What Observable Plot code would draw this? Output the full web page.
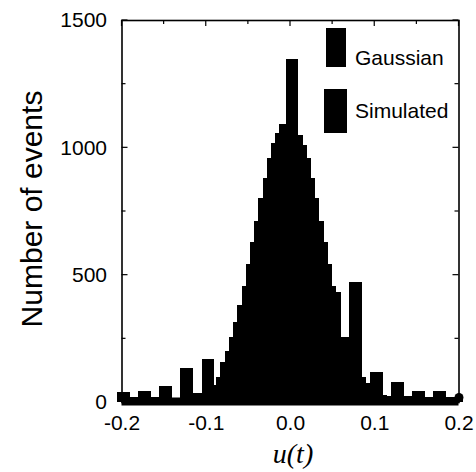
<!DOCTYPE html>
<html>
<head>
<meta charset="utf-8">
<script src="https://cdn.jsdelivr.net/npm/d3@7"></script>
<script src="https://cdn.jsdelivr.net/npm/@observablehq/plot@0.6"></script>
<style>
  html, body { margin: 0; padding: 0; background: #fff; }
  #chart { width: 476px; height: 472px; }
</style>
</head>
<body>
<div id="chart"></div>
<script>
// ---- data ----
const binWidth = 0.005;

// Gaussian histogram: bin centres from -0.200 to 0.200
const gaussianFirstCenter = -0.2;
const gaussianCounts = [
  0, 0, 0, 0, 0, 0, 0, 0, 0, 1,              // -0.200 .. -0.155
  1, 1, 1, 2, 2, 3, 5, 8, 12, 18,            // -0.150 .. -0.105
  30, 45, 68, 100, 158, 201, 254, 313, 381, 455,   // -0.100 .. -0.055
  541, 628, 711, 800, 878, 957, 1016, 1055, 1090, 1092, // -0.050 .. -0.005
  1095,                                       // 0.000
  1090, 1040, 1005, 955, 875, 795, 705, 620, 535, 450,  // 0.005 .. 0.050
  380, 250, 200, 160, 120, 90, 65, 45, 30, 18,     // 0.055 .. 0.100
  12, 8, 5, 3, 2, 2, 1, 1, 1, 1,             // 0.105 .. 0.150
  0, 0, 0, 0, 0, 0, 0, 0, 0, 0               // 0.155 .. 0.200
];

// Simulated histogram: bin centres from -0.2025 to 0.2025
const simulatedFirstCenter = -0.2025;
const simulatedCounts = [
  38, 38, 38, 20, 20, 44, 44, 44, 20, 20,          // -0.2025 .. -0.1575
  63, 63, 63, 14, 14, 132, 132, 132, 35, 35,       // -0.1525 .. -0.1075
  168, 168, 168, 60, 90, 150, 190, 240, 300, 370,  // -0.1025 .. -0.0575
  440, 520, 610, 690, 780, 860, 940, 1000, 1040, 1048, // -0.0525 .. -0.0075
  1347, 1347, 1347, 1048, 1009, 957, 878, 800, 711, 628, // -0.0025 .. 0.0425
  541, 455, 433, 257, 257, 472, 472, 472, 100, 76, // 0.0475 .. 0.0925
  117, 117, 117, 27, 25, 80, 80, 80, 22, 22,       // 0.0975 .. 0.1425
  43, 43, 43, 20, 20, 43, 43, 43, 20, 20,          // 0.1475 .. 0.1925
  20, 20                                           // 0.1975 .. 0.2025
];

const seriesNames = ["Gaussian", "Simulated"];
const xTicks = [-0.2, -0.1, 0, 0.1, 0.2];
const xMinorTicks = [-0.15, -0.05, 0.05, 0.15];
const yTicks = [0, 500, 1000, 1500];
const yMinorTicks = [250, 750, 1250];
const endpoints = [{u: -0.2, n: 0}, {u: 0.2, n: 0}];
const xLabel = "u(t)";
const yLabel = "Number of events";

(function () {
  function toBins(first, counts, name) {
    return counts.map((n, i) => {
      const c = first + i * binWidth;
      return {series: name, x1: c - binWidth / 2, x2: c + binWidth / 2, n};
    });
  }
  const bins = [
    ...toBins(gaussianFirstCenter, gaussianCounts, seriesNames[0]),
    ...toBins(simulatedFirstCenter, simulatedCounts, seriesNames[1])
  ];

  const plot = Plot.plot({
    width: 476,
    height: 472,
    marginLeft: 121.5,
    marginRight: 17.5,
    marginTop: 20,
    marginBottom: 70,
    style: {fontFamily: "'Liberation Sans', Arial, sans-serif", fontSize: "21px", background: "white", color: "black", overflow: "visible"},
    x: {domain: [-0.2, 0.2]},
    y: {domain: [0, 1500]},
    marks: [
      Plot.rectY(bins, {x1: "x1", x2: "x2", y: "n", fill: "black", inset: 0, shapeRendering: "crispEdges"}),
      Plot.ruleY([0], {stroke: "black", strokeWidth: 8, dy: -1}),
      Plot.dot(endpoints, {x: "u", y: "n", r: 4.5, fill: "black", stroke: "none", dy: -5}),
      Plot.frame({stroke: "black", strokeWidth: 1.6}),
      Plot.axisX({ticks: xTicks, tickSize: 0, tickPadding: 13, tickFormat: d => d.toFixed(1), label: null, fontSize: 21}),
      Plot.axisY({ticks: yTicks, tickSize: 0, tickPadding: 15, tickFormat: d => String(d), label: null, fontSize: 21})
    ]
  });

  document.getElementById("chart").appendChild(plot);

  // inward ticks on the frame, placed through the plot's own scales
  const sx = plot.scale("x"), sy = plot.scale("y");
  const svg = d3.select(plot);
  const xl = sx.apply(-0.2), xr = sx.apply(0.2);
  const yt = sy.apply(1500);
  const g = svg.append("g").attr("stroke", "black").attr("stroke-width", 1.2);
  const yAll = [...yTicks.map(v => [v, 6]), ...yMinorTicks.map(v => [v, 4])];
  for (const [v, len] of yAll) {
    const y = sy.apply(v);
    g.append("line").attr("x1", xl).attr("x2", xl + len).attr("y1", y).attr("y2", y);
    g.append("line").attr("x1", xr).attr("x2", xr - len).attr("y1", y).attr("y2", y);
  }
  const xAll = [...xTicks.map(v => [v, 6]), ...xMinorTicks.map(v => [v, 4])];
  for (const [v, len] of xAll) {
    const x = sx.apply(v);
    g.append("line").attr("x1", x).attr("x2", x).attr("y1", yt).attr("y2", yt + len);
  }

  // legend
  const leg = svg.append("g")
    .attr("font-family", "'Liberation Sans', Arial, sans-serif")
    .attr("font-size", 21)
    .attr("text-anchor", "start");
  leg.append("rect").attr("x", 326).attr("y", 28).attr("width", 20).attr("height", 39).attr("fill", "black");
  leg.append("text").attr("x", 355).attr("y", 65).attr("text-anchor", "start").text(seriesNames[0]);
  leg.append("rect").attr("x", 324).attr("y", 89).attr("width", 23).attr("height", 44).attr("fill", "black");
  leg.append("text").attr("x", 355).attr("y", 118).attr("text-anchor", "start").text(seriesNames[1]);

  // axis titles
  svg.append("text")
    .attr("transform", "translate(42,209) rotate(-90)")
    .attr("text-anchor", "middle")
    .attr("font-family", "'Liberation Sans', Arial, sans-serif")
    .attr("font-size", 30)
    .text(yLabel);
  svg.append("text")
    .attr("x", 293).attr("y", 463)
    .attr("text-anchor", "middle")
    .attr("font-family", "'Liberation Serif', 'Times New Roman', serif")
    .attr("font-style", "italic")
    .attr("font-size", 28)
    .text(xLabel);
})();
</script>
</body>
</html>
